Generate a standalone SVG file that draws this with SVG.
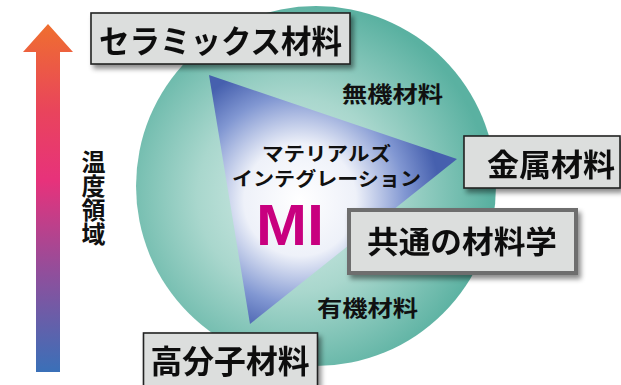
<svg xmlns="http://www.w3.org/2000/svg" width="621" height="385" viewBox="0 0 621 385">
<defs>
<linearGradient id="arrowGrad" x1="0" y1="24" x2="0" y2="372" gradientUnits="userSpaceOnUse">
<stop offset="0" stop-color="#ef6f2f"/>
<stop offset="0.25" stop-color="#e9445c"/>
<stop offset="0.45" stop-color="#e7327b"/>
<stop offset="0.72" stop-color="#8f4f9c"/>
<stop offset="1" stop-color="#3a70b8"/>
</linearGradient>
<radialGradient id="circGrad" cx="295" cy="195" r="195" gradientUnits="userSpaceOnUse">
<stop offset="0" stop-color="#d9eeea"/>
<stop offset="0.5" stop-color="#a9d7cd"/>
<stop offset="1" stop-color="#5ab1a1"/>
</radialGradient>
<radialGradient id="triGrad" cx="300" cy="200" r="140" gradientUnits="userSpaceOnUse">
<stop offset="0" stop-color="#ffffff"/>
<stop offset="0.4" stop-color="#eef1f9"/>
<stop offset="0.75" stop-color="#8197d2"/>
<stop offset="1" stop-color="#4660ae"/>
</radialGradient>
<filter id="shadow" x="-10%" y="-20%" width="130%" height="160%">
<feDropShadow dx="3" dy="4" stdDeviation="2.5" flood-color="#000" flood-opacity="0.45"/>
</filter>
</defs>
<style>
.box{fill:#dcdedd;stroke:#222;stroke-width:1.6}
.box2{fill:#dcdedd;stroke:#6e6e6e;stroke-width:4}
.lbl{font-family:"Noto Sans CJK JP","Noto Sans",sans-serif;font-weight:700;fill:#111}
.mi{font-family:"Liberation Sans",Arial,sans-serif;font-weight:700;fill:#c8007f}
</style>
<g id="temperature-axis">
<polygon points="48,24 73,52 60,52 60,372 36,372 36,52 23,52" fill="url(#arrowGrad)"/>
<text class="lbl" x="93.5" y="150" font-size="24" writing-mode="vertical-rl">温度領域</text>
</g>
<g id="materials-circle">
<circle cx="316" cy="186" r="180" fill="url(#circGrad)"/>
<text class="lbl" x="342" y="101.5" font-size="22" textLength="101" lengthAdjust="spacingAndGlyphs">無機材料</text>
<text class="lbl" x="317" y="316" font-size="22" textLength="101" lengthAdjust="spacingAndGlyphs">有機材料</text>
</g>
<g id="mi-triangle">
<polygon points="209,75 457,159 250,324" fill="url(#triGrad)"/>
<text class="lbl" x="262" y="161" font-size="19" textLength="129" lengthAdjust="spacingAndGlyphs">マテリアルズ</text>
<text class="lbl" x="232" y="186" font-size="19" textLength="189" lengthAdjust="spacingAndGlyphs">インテグレーション</text>
<text class="mi" x="256" y="245" font-size="58" textLength="68" lengthAdjust="spacingAndGlyphs">MI</text>
</g>
<g id="ceramics" filter="url(#shadow)">
<rect class="box" x="91" y="13" width="259" height="51"/>
<text class="lbl" x="99" y="52.5" font-size="32" textLength="243" lengthAdjust="spacingAndGlyphs">セラミックス材料</text>
</g>
<g id="metals" filter="url(#shadow)">
<rect class="box" x="464" y="136" width="156" height="52"/>
<text class="lbl" x="487" y="176" font-size="31" textLength="128" lengthAdjust="spacingAndGlyphs">金属材料</text>
</g>
<g id="common-materials-science" filter="url(#shadow)">
<rect class="box2" x="349" y="210" width="227" height="63"/>
<text class="lbl" x="367" y="253" font-size="31" textLength="190" lengthAdjust="spacingAndGlyphs">共通の材料学</text>
</g>
<g id="polymers" filter="url(#shadow)">
<rect class="box" x="143.5" y="333" width="174" height="60"/>
<text class="lbl" x="150.5" y="373" font-size="32" textLength="159" lengthAdjust="spacingAndGlyphs">高分子材料</text>
</g>
</svg>
